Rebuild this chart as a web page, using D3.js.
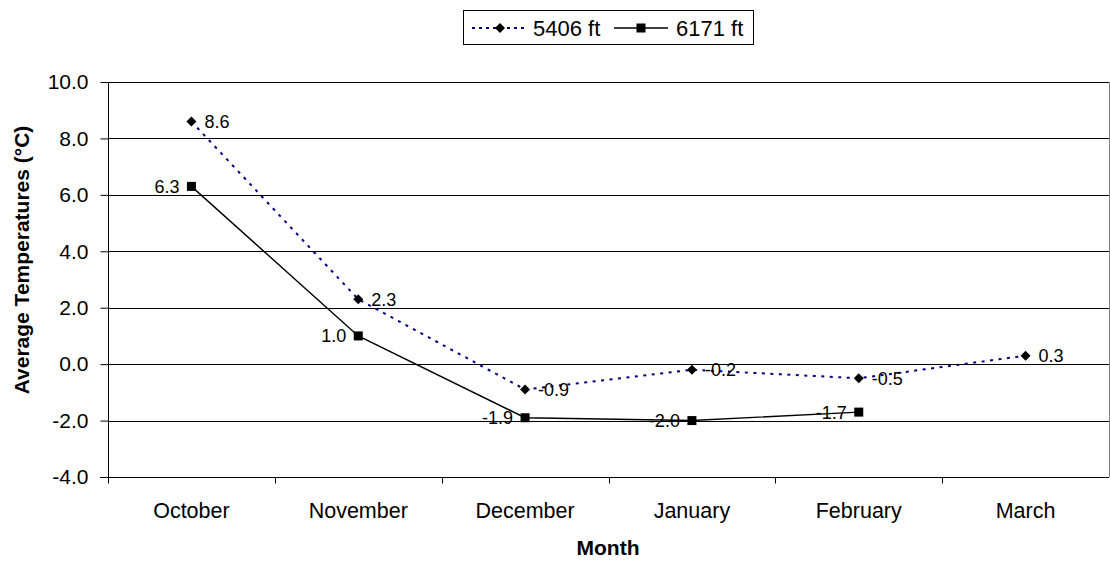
<!DOCTYPE html>
<html><head><meta charset="utf-8">
<script src="https://cdn.jsdelivr.net/npm/d3@7"></script>
<style>
body{margin:0;background:#fff;}
svg{display:block;font-family:"Liberation Sans",Arial,sans-serif;}
</style></head>
<body><svg id="c" width="1110" height="561"></svg>
<script>
const months = ["October","November","December","January","February","March"];
const s5406 = [8.6, 2.3, -0.9, -0.2, -0.5, 0.3];
const s6171 = [6.3, 1.0, -1.9, -2.0, -1.7, null];
const yTicks = [-4, -2, 0, 2, 4, 6, 8, 10];
const seriesNames = ["5406 ft", "6171 ft"];

const fmt = d3.formatLocale({decimal: ".", thousands: ",", grouping: [3], currency: ["", ""], minus: "-"}).format(".1f");

const svg = d3.select("#c");
const L = 108, R = 1109, T = 82, B = 477;
const x = d3.scaleBand().domain(months).range([L, R]);
const y = d3.scaleLinear().domain([-4, 10]).range([B, T]);

// gridlines
svg.append("g").selectAll("line").data(yTicks).join("line")
  .attr("x1", L).attr("x2", R)
  .attr("y1", d => Math.round(y(d)) + 0.5).attr("y2", d => Math.round(y(d)) + 0.5)
  .attr("stroke", "#000").attr("stroke-width", 1);
// right border
svg.append("line").attr("x1", R + 0.5).attr("x2", R + 0.5).attr("y1", T).attr("y2", B)
  .attr("stroke", "#808080");

// y axis
const ya = svg.append("g").attr("transform", `translate(${L + 0.5},0)`)
  .call(d3.axisLeft(y).tickValues(yTicks).tickSize(8).tickPadding(12).tickFormat(fmt));
ya.select(".domain").attr("stroke", "#000").attr("d", `M0,${T}V${B + 6}`);
ya.selectAll(".tick line").attr("stroke", "#000");
ya.selectAll(".tick text").attr("font-size", 21).attr("fill", "#000")
  .attr("font-family", "'Liberation Sans',Arial,sans-serif");

// x axis
const xa = svg.append("g").attr("transform", `translate(0,${Math.round(B) + 0.5})`);
xa.append("line").attr("x1", L - 8).attr("x2", R).attr("stroke", "#000");
const bounds = months.map((m) => x(m));
xa.selectAll("line.tk").data(bounds).join("line").attr("class", "tk")
  .attr("x1", d => Math.round(d) + 0.5).attr("x2", d => Math.round(d) + 0.5)
  .attr("y1", 0).attr("y2", 6).attr("stroke", "#000");
xa.selectAll("text").data(months).join("text")
  .attr("x", d => x(d) + x.bandwidth() / 2).attr("y", 40)
  .attr("text-anchor", "middle").attr("font-size", 21.5).attr("fill", "#000").text(d => d);

// axis titles
svg.append("text").attr("transform", "translate(29,260) rotate(-90)")
  .attr("text-anchor", "middle").attr("font-size", 21).attr("font-weight", "bold").text("Average Temperatures (°C)");
svg.append("text").attr("x", 608).attr("y", 555)
  .attr("text-anchor", "middle").attr("font-size", 21).attr("font-weight", "bold").text("Month");

const cx = m => x(m) + x.bandwidth() / 2;

const d1 = months.map((m, i) => ({ m, v: s5406[i] })).filter(d => d.v != null);
const d2 = months.map((m, i) => ({ m, v: s6171[i] })).filter(d => d.v != null);
const line = d3.line().x(d => cx(d.m)).y(d => y(d.v));

svg.append("path").datum(d2).attr("d", line).attr("fill", "none").attr("stroke", "#000").attr("stroke-width", 1.4);
svg.append("path").datum(d1).attr("d", line).attr("fill", "none").attr("stroke", "#000080")
  .attr("stroke-width", 2).attr("stroke-dasharray", "3,5.5");

const dia = d3.symbol().type(d3.symbolSquare).size(50);
svg.append("g").selectAll("path").data(d1).join("path")
  .attr("d", dia)
  .attr("transform", d => `translate(${cx(d.m)},${y(d.v)}) rotate(45)`).attr("fill", "#000");
svg.append("g").selectAll("rect").data(d2).join("rect")
  .attr("x", d => cx(d.m) - 4.5).attr("y", d => y(d.v) - 4.5).attr("width", 9).attr("height", 9).attr("fill", "#000");

// labels
svg.append("g").selectAll("text").data(d1).join("text")
  .attr("x", d => cx(d.m) + 13).attr("y", d => y(d.v) + 6.5)
  .attr("font-size", 18).attr("fill", "#000").text(d => fmt(d.v));
svg.append("g").selectAll("text").data(d2).join("text")
  .attr("x", d => cx(d.m) - 12).attr("y", d => y(d.v) + 6.5).attr("text-anchor", "end")
  .attr("font-size", 18).attr("fill", "#000").text(d => fmt(d.v));

// legend
const lg = svg.append("g");
lg.append("rect").attr("x", 463.5).attr("y", 10.5).attr("width", 290).attr("height", 34)
  .attr("fill", "#fff").attr("stroke", "#000");
lg.append("line").attr("x1", 472).attr("x2", 527).attr("y1", 28).attr("y2", 28)
  .attr("stroke", "#000080").attr("stroke-width", 2).attr("stroke-dasharray", "3,4");
lg.append("path").attr("d", dia()).attr("transform", "translate(500,28) rotate(45)").attr("fill", "#000");
lg.append("text").attr("x", 533).attr("y", 36).attr("font-size", 22).text(seriesNames[0]);
lg.append("line").attr("x1", 614).attr("x2", 668).attr("y1", 28).attr("y2", 28)
  .attr("stroke", "#000").attr("stroke-width", 1.4);
lg.append("rect").attr("x", 636.5).attr("y", 23.5).attr("width", 9).attr("height", 9).attr("fill", "#000");
lg.append("text").attr("x", 676).attr("y", 36).attr("font-size", 22).text(seriesNames[1]);
</script></body></html>
